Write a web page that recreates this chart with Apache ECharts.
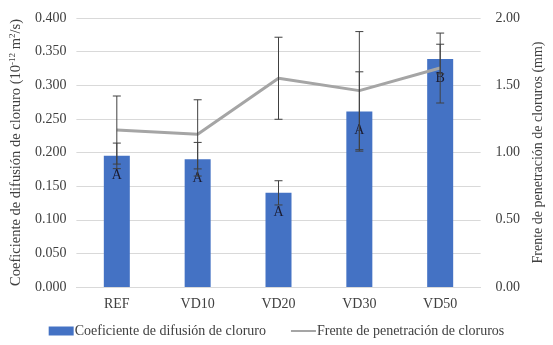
<!DOCTYPE html>
<html>
<head>
<meta charset="utf-8">
<script src="https://cdn.jsdelivr.net/npm/echarts@6/dist/echarts.min.js"></script>
<style>
  html, body { margin: 0; padding: 0; background: #fff; }
  #main { width: 553px; height: 345px; }
</style>
</head>
<body>
<div id="main"></div>
<script>
// categories and values
const categories = ['REF', 'VD10', 'VD20', 'VD30', 'VD50'];
const coefValues = [0.195, 0.190, 0.140, 0.261, 0.339];
const coefErrors = [0.019, 0.025, 0.018, 0.059, 0.022];
const coefLetters = ['A', 'A', 'A', 'A', 'B'];
const frontValues = [1.167, 1.135, 1.552, 1.460, 1.628];
const frontErrors = [0.253, 0.257, 0.305, 0.439, 0.260];
const leftTicks = [0, 0.4, 0.05];
const rightTicks = [0, 2, 0.5];

const font = 'Liberation Serif';
const textColor = '#404040';

function errorData(values, errors) {
    return values.map(function (v, i) {
        return [i, v - errors[i], v + errors[i]];
    });
}

function renderError(params, api) {
    let x = api.value(0);
    let lo = api.coord([x, api.value(1)]);
    let hi = api.coord([x, api.value(2)]);
    let half = 4;
    let style = { stroke: '#404040', lineWidth: 1 };
    return {
        type: 'group',
        children: [
            { type: 'line', shape: { x1: hi[0], y1: hi[1], x2: lo[0], y2: lo[1] }, style: style },
            { type: 'line', shape: { x1: hi[0] - half, y1: hi[1], x2: hi[0] + half, y2: hi[1] }, style: style },
            { type: 'line', shape: { x1: lo[0] - half, y1: lo[1], x2: lo[0] + half, y2: lo[1] }, style: style }
        ]
    };
}

function drawChart() {

    let myChart = echarts.init(document.getElementById('main'));

    let option = {
        animation: false,
        textStyle: { fontFamily: font },
        grid: {
            left: 73,
            right: 66,
            top: 18,
            bottom: 58
        },
        legend: {
            data: [
                { name: 'Coeficiente de difusión de cloruro', icon: 'rect' },
                { name: 'Frente de penetración de cloruros', itemStyle: { opacity: 0 } }
            ],
            bottom: 2,
            left: 'center',
            itemWidth: 25,
            itemHeight: 9,
            itemGap: 24,
            textStyle: { fontFamily: font, fontSize: 14, color: textColor, padding: [0, 0, 0, -4] }
        },
        xAxis: {
            type: 'category',
            data: categories,
            axisLine: { lineStyle: { color: '#d9d9d9' } },
            axisTick: { show: false },
            axisLabel: { fontFamily: font, fontSize: 14, color: textColor, margin: 10 }
        },
        yAxis: [
            {
                type: 'value',
                min: leftTicks[0],
                max: leftTicks[1],
                interval: leftTicks[2],
                name: '{a|Coeficiente de difusión de cloruro (10}{s|-12}{a| m}{s|2}{a|/s)}',
                nameLocation: 'middle',
                nameGap: 52,
                nameTextStyle: {
                    rich: {
                        a: { fontFamily: font, fontSize: 14.5, color: textColor, lineHeight: 16, verticalAlign: 'bottom' },
                        s: { fontFamily: font, fontSize: 9, color: textColor, lineHeight: 16, verticalAlign: 'top' }
                    }
                },
                axisLabel: {
                    fontFamily: font, fontSize: 14, color: textColor, margin: 10,
                    formatter: function (value) {
                        return value.toFixed(3);
                    }
                },
                splitLine: { lineStyle: { color: '#d9d9d9' } }
            },
            {
                type: 'value',
                min: rightTicks[0],
                max: rightTicks[1],
                interval: rightTicks[2],
                name: 'Frente de penetración de cloruros (mm)',
                nameLocation: 'middle',
                nameGap: 44,
                nameRotate: 90,
                nameTextStyle: { fontFamily: font, fontSize: 14, color: textColor },
                axisLabel: {
                    fontFamily: font, fontSize: 14, color: textColor, margin: 15,
                    formatter: function (value) {
                        return value.toFixed(2);
                    }
                },
                splitLine: { show: false }
            }
        ],
        series: [
            {
                name: 'Coeficiente de difusión de cloruro',
                type: 'bar',
                yAxisIndex: 0,
                data: coefValues,
                barWidth: 26,
                itemStyle: { color: '#4472c4' },
                label: {
                    show: true,
                    position: 'insideTop',
                    distance: 12,
                    fontFamily: font,
                    fontSize: 14,
                    color: '#1a1a2e',
                    formatter: function (p) {
                        return coefLetters[p.dataIndex];
                    }
                },
                z: 2
            },
            {
                name: 'Frente de penetración de cloruros',
                type: 'line',
                yAxisIndex: 1,
                data: frontValues,
                symbol: 'none',
                lineStyle: { color: '#a5a5a5', width: 3 },
                itemStyle: { color: '#a5a5a5' },
                z: 3
            },
            {
                type: 'custom',
                yAxisIndex: 0,
                data: errorData(coefValues, coefErrors),
                renderItem: renderError,
                z: 4
            },
            {
                type: 'custom',
                yAxisIndex: 1,
                data: errorData(frontValues, frontErrors),
                renderItem: renderError,
                z: 4
            }
        ]
    };

    myChart.setOption(option);
}

drawChart();
</script>
</body>
</html>
